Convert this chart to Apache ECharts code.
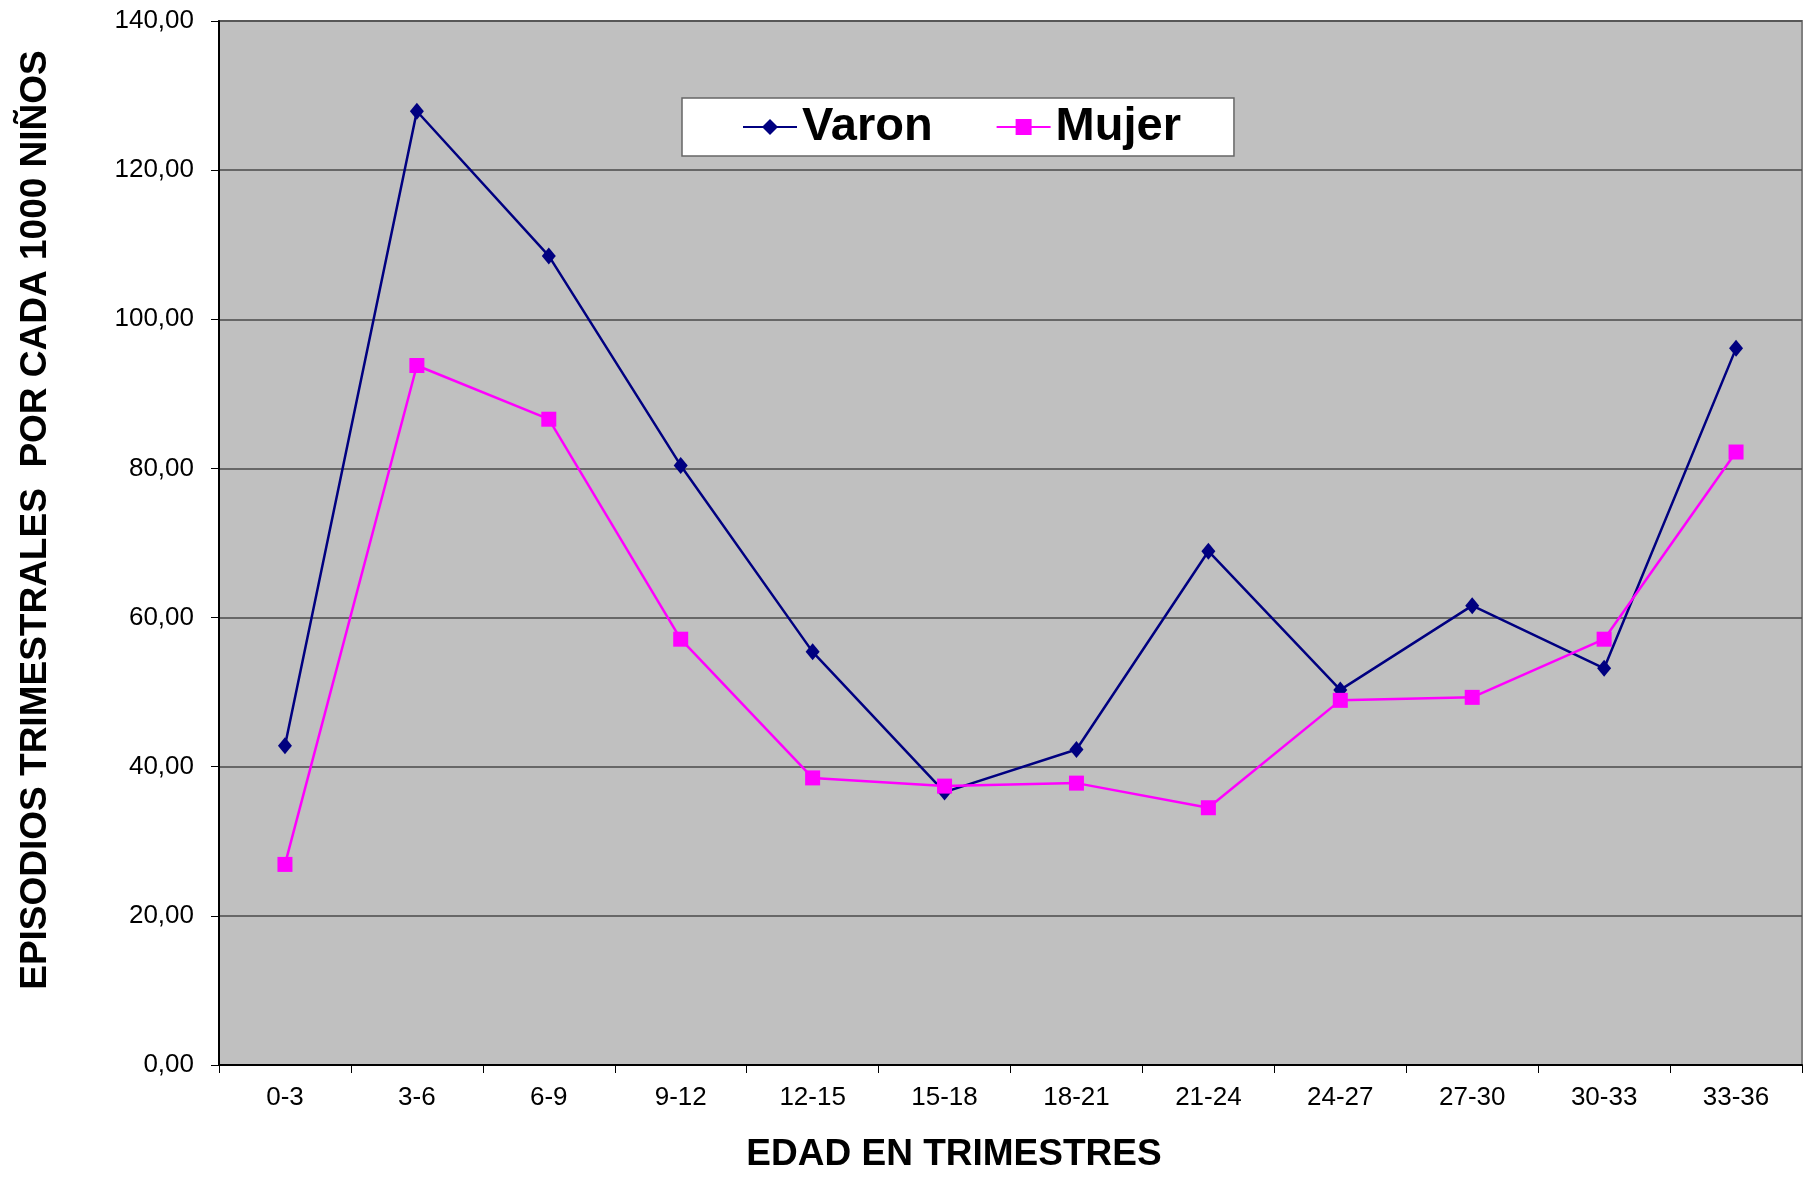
<!DOCTYPE html>
<html>
<head>
<meta charset="utf-8">
<script src="https://cdn.jsdelivr.net/npm/echarts@6/dist/echarts.min.js"></script>
<style>html,body{margin:0;padding:0;background:#fff}#c{width:1804px;height:1178px}</style>
</head>
<body>
<div id="c"></div>
<script>
var categories = ['0-3','3-6','6-9','9-12','12-15','15-18','18-21','21-24','24-27','27-30','30-33','33-36'];
var varon = [42.8, 127.9, 108.5, 80.4, 55.4, 36.6, 42.3, 68.9, 50.3, 61.6, 53.2, 96.1];
var mujer = [26.9, 93.8, 86.6, 57.1, 38.5, 37.4, 37.8, 34.5, 48.9, 49.3, 57.1, 82.2];
var yTicks = [0, 20, 40, 60, 80, 100, 120, 140];

var chart = echarts.init(document.getElementById('c'));
var FONT = '"Liberation Sans", Arial, sans-serif';
chart.setOption({
  backgroundColor: '#ffffff',
  animation: false,
  textStyle: { fontFamily: FONT },
  grid: {
    left: 219, right: 2, top: 21, bottom: 112,
    show: true, backgroundColor: '#C0C0C0', borderColor: '#808080', borderWidth: 2
  },
  legend: {
    left: 682, top: 98,
    padding: [5, 53, 5, 60],
    backgroundColor: '#ffffff', borderColor: '#666666', borderWidth: 1.5,
    itemGap: 63, itemWidth: 54, itemHeight: 20,
    textStyle: { fontFamily: FONT, fontSize: 47, fontWeight: 'bold', color: '#000', lineHeight: 48 },
    data: ['Varon', 'Mujer']
  },
  xAxis: {
    type: 'category',
    data: categories,
    boundaryGap: true,
    name: 'EDAD EN TRIMESTRES',
    nameLocation: 'middle',
    nameGap: 71,
    nameTextStyle: { fontFamily: FONT, fontSize: 37, fontWeight: 'bold', color: '#000', padding: [0, 113, 0, 0] },
    axisLine: { lineStyle: { color: '#000', width: 2 } },
    axisTick: { show: true, length: 8, lineStyle: { color: '#000', width: 1 } },
    axisLabel: { fontFamily: FONT, fontSize: 26, color: '#000', margin: 20 },
    splitLine: { show: false }
  },
  yAxis: {
    type: 'value',
    min: yTicks[0], max: yTicks[yTicks.length - 1], interval: 20,
    name: 'EPISODIOS TRIMESTRALES  POR CADA 1000 NIÑOS',
    nameLocation: 'middle',
    nameGap: 165,
    nameTextStyle: { fontFamily: FONT, fontSize: 37, fontWeight: 'bold', color: '#000', padding: [0, 0, 0, 46] },
    axisLine: { show: true, lineStyle: { color: '#000', width: 2 } },
    axisTick: { show: true, length: 8, lineStyle: { color: '#000', width: 1 } },
    axisLabel: {
      fontFamily: FONT, fontSize: 26, color: '#000', margin: 25,
      formatter: function (v) { return v.toFixed(2).replace('.', ','); }
    },
    splitLine: { show: true, lineStyle: { color: '#4a4a4a', width: 1.5 } }
  },
  series: [
    {
      name: 'Varon', type: 'line', data: varon,
      symbol: 'diamond', symbolSize: [14, 17],
      lineStyle: { color: '#000080', width: 2.5 },
      itemStyle: { color: '#000080' }
    },
    {
      name: 'Mujer', type: 'line', data: mujer,
      symbol: 'rect', symbolSize: 15,
      lineStyle: { color: '#FF00FF', width: 2.5 },
      itemStyle: { color: '#FF00FF' }
    }
  ]
});
</script>
</body>
</html>
